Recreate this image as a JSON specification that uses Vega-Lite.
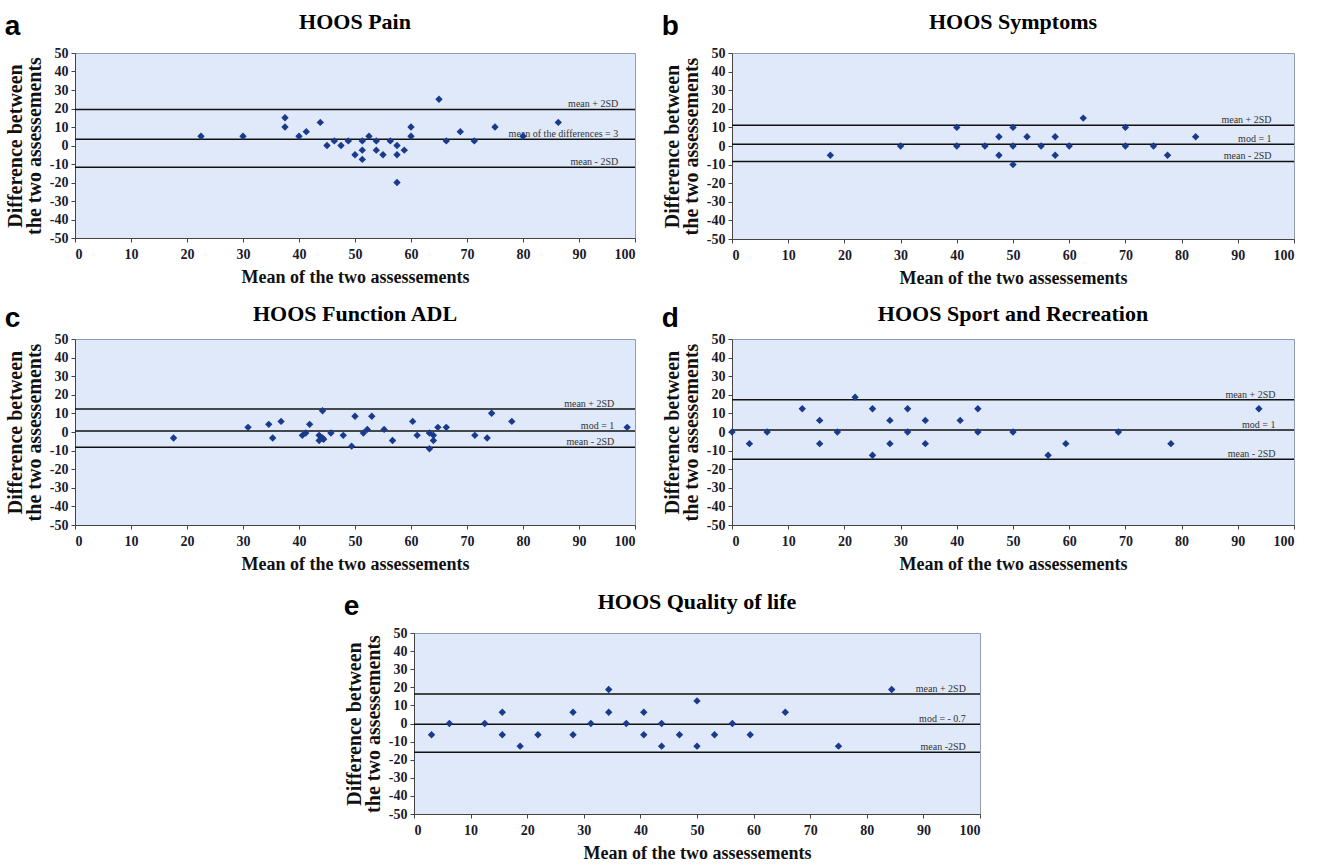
{
  "$schema": "https://vega.github.io/schema/vega-lite/v6.json",
  "background": "white",
  "padding": {"left": 4, "top": 10, "right": 5, "bottom": 2},
  "config": {
    "view": {"fill": "#dfe9fa", "stroke": "#8f9bb0", "strokeWidth": 1},
    "title": {"font": "Liberation Serif", "fontSize": 22, "fontWeight": "bold", "color": "#000", "offset": 12},
    "axis": {"labelFont": "Liberation Serif", "labelFontSize": 14, "labelFontWeight": "bold", "labelColor": "#1a1a2a", "titleFont": "Liberation Serif", "titleFontWeight": "bold", "titleColor": "#111", "domainColor": "#444", "tickColor": "#444", "tickSize": 4, "grid": false},
    "axisX": {"titleFontSize": 18, "titlePadding": 7, "labelPadding": 5},
    "axisY": {"titleFontSize": 20, "titleLineHeight": 19, "titlePadding": 5, "labelPadding": 3, "labelExpr": "datum.value < 0 ? '-' + abs(datum.value) : '' + datum.value"}
  },
  "datasets": {
    "pa": [
      {"m": 22.5, "d": 5}, {"m": 30, "d": 5}, {"m": 37.5, "d": 15}, {"m": 37.5, "d": 10}, {"m": 40, "d": 5}, {"m": 41.3, "d": 7.5}, {"m": 43.8, "d": 12.5}, {"m": 45, "d": 0}, {"m": 46.3, "d": 2.5}, {"m": 47.5, "d": 0}, {"m": 48.8, "d": 2.5}, {"m": 50, "d": -5}, {"m": 51.3, "d": 2.5}, {"m": 51.3, "d": -2.5}, {"m": 51.3, "d": -7.5}, {"m": 52.5, "d": 5}, {"m": 53.8, "d": 2.5}, {"m": 53.8, "d": -2.5}, {"m": 55, "d": -5}, {"m": 56.3, "d": 2.5}, {"m": 57.5, "d": 0}, {"m": 57.5, "d": -5}, {"m": 57.5, "d": -20}, {"m": 58.8, "d": -2.5}, {"m": 60, "d": 10}, {"m": 60, "d": 5}, {"m": 65, "d": 25}, {"m": 66.3, "d": 2.5}, {"m": 68.8, "d": 7.5}, {"m": 71.3, "d": 2.5}, {"m": 75, "d": 10}, {"m": 80, "d": 5}, {"m": 86.3, "d": 12.5}
    ],
    "la": [{"d": 19.5, "label": "mean + 2SD"}, {"d": 3.4, "label": "mean of the differences = 3"}, {"d": -11.7, "label": "mean - 2SD"}],
    "pb": [
      {"m": 17.5, "d": -5}, {"m": 30, "d": 0}, {"m": 40, "d": 10}, {"m": 40, "d": 0}, {"m": 45, "d": 0}, {"m": 47.5, "d": 5}, {"m": 47.5, "d": -5}, {"m": 50, "d": 10}, {"m": 50, "d": 0}, {"m": 50, "d": -10}, {"m": 52.5, "d": 5}, {"m": 55, "d": 0}, {"m": 57.5, "d": 5}, {"m": 57.5, "d": -5}, {"m": 60, "d": 0}, {"m": 62.5, "d": 15}, {"m": 70, "d": 10}, {"m": 70, "d": 0}, {"m": 75, "d": 0}, {"m": 77.5, "d": -5}, {"m": 82.5, "d": 5}
    ],
    "lb": [{"d": 11.2, "label": "mean + 2SD"}, {"d": 0.9, "label": "mod = 1"}, {"d": -8.3, "label": "mean - 2SD"}],
    "pc": [
      {"m": 17.6, "d": -3.2}, {"m": 30.9, "d": 2.5}, {"m": 34.6, "d": 4.1}, {"m": 35.3, "d": -3.2}, {"m": 36.8, "d": 5.7}, {"m": 40.6, "d": -1.8}, {"m": 41.2, "d": -0.5}, {"m": 41.9, "d": 4.1}, {"m": 43.6, "d": -1.8}, {"m": 43.6, "d": -4.6}, {"m": 44.2, "d": -3.2}, {"m": 44.2, "d": 11.4}, {"m": 44.4, "d": -3.9}, {"m": 45.7, "d": -0.5}, {"m": 47.9, "d": -1.8}, {"m": 49.4, "d": -7.6}, {"m": 50, "d": 8.5}, {"m": 51.5, "d": -0.5}, {"m": 52.2, "d": 1.4}, {"m": 53, "d": 8.5}, {"m": 55.2, "d": 1.4}, {"m": 56.7, "d": -4.6}, {"m": 60.3, "d": 5.7}, {"m": 61.1, "d": -1.8}, {"m": 63.3, "d": -0.5}, {"m": 63.3, "d": -9}, {"m": 64, "d": -1.8}, {"m": 64, "d": -4.6}, {"m": 64.8, "d": 2.5}, {"m": 66.3, "d": 2.5}, {"m": 71.4, "d": -1.8}, {"m": 73.6, "d": -3.2}, {"m": 74.4, "d": 10.1}, {"m": 78, "d": 5.7}, {"m": 98.6, "d": 2.5}
    ],
    "lc": [{"d": 12.4, "label": "mean + 2SD"}, {"d": 0.6, "label": "mod = 1"}, {"d": -8.2, "label": "mean - 2SD"}],
    "pd": [
      {"m": 0, "d": 0}, {"m": 3.1, "d": -6.25}, {"m": 6.25, "d": 0}, {"m": 12.5, "d": 12.5}, {"m": 15.6, "d": 6.25}, {"m": 15.6, "d": -6.25}, {"m": 18.75, "d": 0}, {"m": 21.9, "d": 18.75}, {"m": 25, "d": 12.5}, {"m": 25, "d": -12.5}, {"m": 28.1, "d": 6.25}, {"m": 28.1, "d": -6.25}, {"m": 31.25, "d": 12.5}, {"m": 31.25, "d": 0}, {"m": 34.4, "d": 6.25}, {"m": 34.4, "d": -6.25}, {"m": 40.6, "d": 6.25}, {"m": 43.75, "d": 12.5}, {"m": 43.75, "d": 0}, {"m": 50, "d": 0}, {"m": 56.25, "d": -12.5}, {"m": 59.4, "d": -6.25}, {"m": 68.75, "d": 0}, {"m": 78.1, "d": -6.25}, {"m": 93.75, "d": 12.5}
    ],
    "ld": [{"d": 17.3, "label": "mean + 2SD"}, {"d": 1.1, "label": "mod = 1"}, {"d": -14.7, "label": "mean - 2SD"}],
    "pe": [
      {"m": 3.1, "d": -6.25}, {"m": 6.25, "d": 0}, {"m": 12.5, "d": 0}, {"m": 15.6, "d": 6.25}, {"m": 15.6, "d": -6.25}, {"m": 18.75, "d": -12.5}, {"m": 21.9, "d": -6.25}, {"m": 28.1, "d": 6.25}, {"m": 28.1, "d": -6.25}, {"m": 31.25, "d": 0}, {"m": 34.4, "d": 18.75}, {"m": 34.4, "d": 6.25}, {"m": 37.5, "d": 0}, {"m": 40.6, "d": 6.25}, {"m": 40.6, "d": -6.25}, {"m": 43.75, "d": 0}, {"m": 43.75, "d": -12.5}, {"m": 46.9, "d": -6.25}, {"m": 50, "d": 12.5}, {"m": 50, "d": -12.5}, {"m": 53.1, "d": -6.25}, {"m": 56.25, "d": 0}, {"m": 59.4, "d": -6.25}, {"m": 65.6, "d": 6.25}, {"m": 75, "d": -12.5}, {"m": 84.4, "d": 18.75}
    ],
    "le": [{"d": 16.3, "label": "mean + 2SD"}, {"d": -0.4, "label": "mod = - 0.7"}, {"d": -15.9, "label": "mean -2SD"}]
  },
  "vconcat": [
    {
      "vconcat": [
        {
          "hconcat": [
            {
              "title": {"text": "a", "anchor": "start", "frame": "bounds", "font": "Liberation Sans", "fontSize": 28, "fontWeight": "bold", "dy": 30, "offset": 0},
              "vconcat": [{
                "title": "HOOS Pain", "width": 560, "height": 185,
                "encoding": {"y": {"field": "d", "type": "quantitative", "scale": {"domain": [-50, 50]}, "axis": {"values": [-50, -40, -30, -20, -10, 0, 10, 20, 30, 40, 50]}, "title": ["Difference between", "the two assessements"]}},
                "layer": [
                  {"data": {"name": "la"}, "mark": {"type": "rule", "color": "#111", "strokeWidth": 1.5}, "encoding": {}},
                  {"data": {"name": "la"}, "mark": {"type": "text", "align": "right", "baseline": "alphabetic", "dy": -2, "font": "Liberation Serif", "fontSize": 10, "color": "#333"}, "encoding": {"x": {"datum": 97, "type": "quantitative", "scale": {"domain": [0, 100]}, "title": "Mean of the two assessements"}, "text": {"field": "label"}}},
                  {"data": {"name": "pa"}, "mark": {"type": "point", "shape": "diamond", "filled": true, "color": "#1a3a8c", "size": 55, "opacity": 1}, "encoding": {"x": {"field": "m", "type": "quantitative", "scale": {"domain": [0, 100]}, "axis": {"values": [0, 10, 20, 30, 40, 50, 60, 70, 80, 90, 100]}, "title": "Mean of the two assessements"}}}
                ]
              }]
            },
            {
              "title": {"text": "b", "anchor": "start", "frame": "bounds", "font": "Liberation Sans", "fontSize": 28, "fontWeight": "bold", "dy": 30, "offset": 0},
              "vconcat": [{
                "title": "HOOS Symptoms", "width": 562, "height": 186,
                "encoding": {"y": {"field": "d", "type": "quantitative", "scale": {"domain": [-50, 50]}, "axis": {"values": [-50, -40, -30, -20, -10, 0, 10, 20, 30, 40, 50]}, "title": ["Difference between", "the two assessements"]}},
                "layer": [
                  {"data": {"name": "lb"}, "mark": {"type": "rule", "color": "#111", "strokeWidth": 1.5}, "encoding": {}},
                  {"data": {"name": "lb"}, "mark": {"type": "text", "align": "right", "baseline": "alphabetic", "dy": -2, "font": "Liberation Serif", "fontSize": 10, "color": "#333"}, "encoding": {"x": {"datum": 96, "type": "quantitative", "scale": {"domain": [0, 100]}, "title": "Mean of the two assessements"}, "text": {"field": "label"}}},
                  {"data": {"name": "pb"}, "mark": {"type": "point", "shape": "diamond", "filled": true, "color": "#1a3a8c", "size": 55, "opacity": 1}, "encoding": {"x": {"field": "m", "type": "quantitative", "scale": {"domain": [0, 100]}, "axis": {"values": [0, 10, 20, 30, 40, 50, 60, 70, 80, 90, 100]}, "title": "Mean of the two assessements"}}}
                ]
              }]
            }
          ],
          "spacing": 24
        },
        {
          "hconcat": [
            {
              "title": {"text": "c", "anchor": "start", "frame": "bounds", "font": "Liberation Sans", "fontSize": 28, "fontWeight": "bold", "dy": 30, "offset": 0},
              "vconcat": [{
                "title": {"text": "HOOS Function ADL", "offset": 6}, "width": 560, "height": 186,
                "encoding": {"y": {"field": "d", "type": "quantitative", "scale": {"domain": [-50, 50]}, "axis": {"values": [-50, -40, -30, -20, -10, 0, 10, 20, 30, 40, 50]}, "title": ["Difference between", "the two assessements"]}},
                "layer": [
                  {"data": {"name": "lc"}, "mark": {"type": "rule", "color": "#111", "strokeWidth": 1.5}, "encoding": {}},
                  {"data": {"name": "lc"}, "mark": {"type": "text", "align": "right", "baseline": "alphabetic", "dy": -2, "font": "Liberation Serif", "fontSize": 10, "color": "#333"}, "encoding": {"x": {"datum": 96.3, "type": "quantitative", "scale": {"domain": [0, 100]}, "title": "Mean of the two assessements"}, "text": {"field": "label"}}},
                  {"data": {"name": "pc"}, "mark": {"type": "point", "shape": "diamond", "filled": true, "color": "#1a3a8c", "size": 55, "opacity": 1}, "encoding": {"x": {"field": "m", "type": "quantitative", "scale": {"domain": [0, 100]}, "axis": {"values": [0, 10, 20, 30, 40, 50, 60, 70, 80, 90, 100]}, "title": "Mean of the two assessements"}}}
                ]
              }]
            },
            {
              "title": {"text": "d", "anchor": "start", "frame": "bounds", "font": "Liberation Sans", "fontSize": 28, "fontWeight": "bold", "dy": 30, "offset": 0},
              "vconcat": [{
                "title": {"text": "HOOS Sport and Recreation", "offset": 6}, "width": 562, "height": 186,
                "encoding": {"y": {"field": "d", "type": "quantitative", "scale": {"domain": [-50, 50]}, "axis": {"values": [-50, -40, -30, -20, -10, 0, 10, 20, 30, 40, 50]}, "title": ["Difference between", "the two assessements"]}},
                "layer": [
                  {"data": {"name": "ld"}, "mark": {"type": "rule", "color": "#111", "strokeWidth": 1.5}, "encoding": {}},
                  {"data": {"name": "ld"}, "mark": {"type": "text", "align": "right", "baseline": "alphabetic", "dy": -2, "font": "Liberation Serif", "fontSize": 10, "color": "#333"}, "encoding": {"x": {"datum": 96.7, "type": "quantitative", "scale": {"domain": [0, 100]}, "title": "Mean of the two assessements"}, "text": {"field": "label"}}},
                  {"data": {"name": "pd"}, "mark": {"type": "point", "shape": "diamond", "filled": true, "color": "#1a3a8c", "size": 55, "opacity": 1}, "encoding": {"x": {"field": "m", "type": "quantitative", "scale": {"domain": [0, 100]}, "axis": {"values": [0, 10, 20, 30, 40, 50, 60, 70, 80, 90, 100]}, "title": "Mean of the two assessements"}}}
                ]
              }]
            }
          ],
          "spacing": 24
        }
      ],
      "spacing": 14
    },
    {
      "hconcat": [
        {"data": {"values": []}, "mark": "point", "width": 268, "height": 10, "view": {"stroke": null, "fill": null}, "encoding": {}},
        {
          "title": {"text": "e", "anchor": "start", "frame": "bounds", "font": "Liberation Sans", "fontSize": 28, "fontWeight": "bold", "dy": 30, "offset": 0},
          "vconcat": [{
            "title": "HOOS Quality of life", "width": 566, "height": 181,
            "encoding": {"y": {"field": "d", "type": "quantitative", "scale": {"domain": [-50, 50]}, "axis": {"values": [-50, -40, -30, -20, -10, 0, 10, 20, 30, 40, 50]}, "title": ["Difference between", "the two assessements"]}},
            "layer": [
              {"data": {"name": "le"}, "mark": {"type": "rule", "color": "#111", "strokeWidth": 1.5}, "encoding": {}},
              {"data": {"name": "le"}, "mark": {"type": "text", "align": "right", "baseline": "alphabetic", "dy": -2, "font": "Liberation Serif", "fontSize": 10, "color": "#333"}, "encoding": {"x": {"datum": 97.5, "type": "quantitative", "scale": {"domain": [0, 100]}, "title": "Mean of the two assessements"}, "text": {"field": "label"}}},
              {"data": {"name": "pe"}, "mark": {"type": "point", "shape": "diamond", "filled": true, "color": "#1a3a8c", "size": 55, "opacity": 1}, "encoding": {"x": {"field": "m", "type": "quantitative", "scale": {"domain": [0, 100]}, "axis": {"values": [0, 10, 20, 30, 40, 50, 60, 70, 80, 90, 100]}, "title": "Mean of the two assessements"}}}
            ]
          }]
        }
      ],
      "spacing": 0
    }
  ],
  "spacing": 16
}
